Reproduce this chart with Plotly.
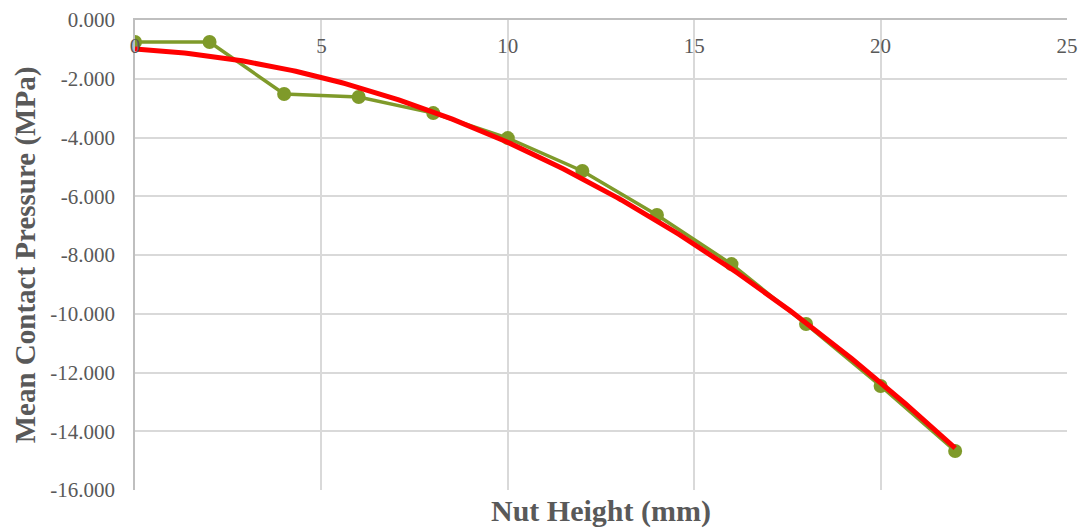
import numpy as np
import plotly.graph_objects as go

nut_height = [0, 2, 4, 6, 8, 10, 12, 14, 16, 18, 20, 22]
pressure = [-0.75, -0.75, -2.52, -2.62, -3.17, -4.02, -5.14, -6.64, -8.31, -10.35, -12.46, -14.67]
x_ticks = [0, 5, 10, 15, 20, 25]
y_ticks = [0, -2, -4, -6, -8, -10, -12, -14, -16]

# polynomial (order 2) trendline fitted to the data
coef = np.polyfit(nut_height, pressure, 2)
xt = np.linspace(min(nut_height), max(nut_height), 200)
yt = np.polyval(coef, xt)

GREEN = "#7f9a2a"
GREY = "#595959"
FONT = "Liberation Serif"

fig = go.Figure()
fig.add_trace(go.Scatter(x=nut_height, y=pressure, mode="lines+markers",
                         line=dict(color=GREEN, width=3.5),
                         marker=dict(color=GREEN, size=14),
                         showlegend=False))
fig.add_trace(go.Scatter(x=xt, y=yt, mode="lines",
                         line=dict(color="#ff0000", width=5),
                         showlegend=False))

fig.update_layout(
    width=1084, height=531,
    margin=dict(l=135, r=17, t=20, b=41),
    paper_bgcolor="white", plot_bgcolor="white",
    font=dict(family=FONT, color=GREY, size=21),
    xaxis=dict(range=[0, 25], tickvals=x_ticks, ticktext=[str(v) for v in x_ticks],
               side="top", ticklabelposition="inside", ticklabeloverflow="allow",
               ticks="", ticklabelstandoff=20, automargin=False,
               showgrid=True, gridcolor="#d9d9d9", gridwidth=1.5,
               showline=True, linecolor="#bfbfbf", linewidth=1.5, mirror=False,
               zeroline=False, tickfont=dict(size=21, color=GREY, family=FONT)),
    yaxis=dict(range=[-16, 0], tickvals=y_ticks, ticktext=[f"{v:.3f}" if v != 0 else "0.000" for v in y_ticks],
               showgrid=True, gridcolor="#d9d9d9", gridwidth=1.5,
               showline=True, linecolor="#bfbfbf", linewidth=1.5,
               zeroline=False, ticks="", ticklabelstandoff=14, ticklabeloverflow="allow",
               automargin=False,
               tickfont=dict(size=21, color=GREY, family=FONT),
               title=dict(text="<b>Mean Contact Pressure (MPa)</b>",
                          font=dict(size=29, color=GREY, family=FONT), standoff=6)),
    annotations=[dict(text="<b>Nut Height (mm)</b>", x=0.5, y=0, xref="paper", yref="paper",
                      xanchor="center", yanchor="top", yshift=-2, showarrow=False,
                      font=dict(size=30, color=GREY, family=FONT))],
)

fig.write_html("out.html")
